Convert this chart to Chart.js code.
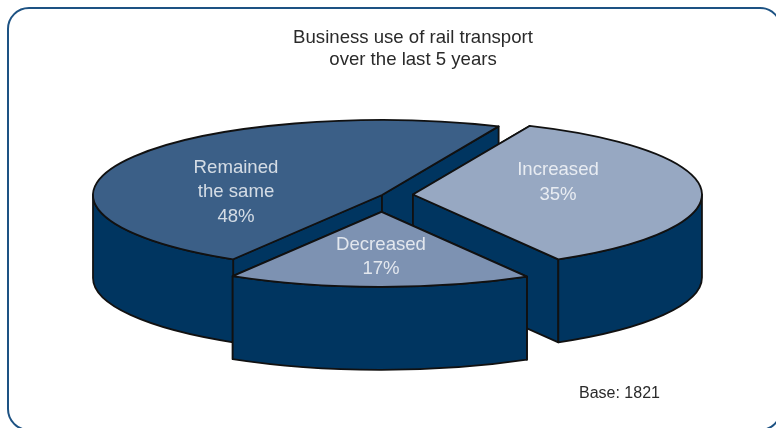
<!DOCTYPE html>
<html>
<head>
<meta charset="utf-8">
<style>
    html, body { margin: 0; padding: 0; background: #fff; overflow: hidden; }
    #wrap { position: relative; width: 776px; height: 428px; overflow: hidden; }
    #frame { position: absolute; left: 7px; top: 7px; width: 775px; height: 424px; box-sizing: border-box;
             border: 2px solid #1d5283; border-radius: 22px; }
    canvas { position: absolute; left: 0; top: 0; }
</style>
<script src="https://cdn.jsdelivr.net/npm/chart.js@4/dist/chart.umd.min.js"></script>
</head>
<body>
<div id="wrap">
    <div id="frame"></div>
    <canvas id="myChart" width="776" height="428"></canvas>
</div>
<script>
const categories = ['Remained the same', 'Increased', 'Decreased'];
const shares = [48, 35, 17];
const labelLines = [['Remained', 'the same'], ['Increased'], ['Decreased']];
const titleLines = ['Business use of rail transport', 'over the last 5 years'];
const baseNote = 'Base: 1821';

// look of the fake 3D
const topColors = ['#3b5f87', '#97a8c2', '#7d92b2'];
const wallColor = '#003560';
const edgeColor = '#111111';
const squash = 75 / 289;
const depth = 83;
const explode = [0, 31, 65];
const labelSpots = [[236, 172.5], [558, 175], [381, 249.5]];
const textFont = '18.6px "Liberation Sans", sans-serif';

function centerOf(arc, i) {
    const mid = (arc.startAngle + arc.endAngle) / 2;
    return {
        x: arc.x + Math.cos(mid) * explode[i],
        y: arc.y + Math.sin(mid) * explode[i] * squash
    };
}

function paint(ctx) {
    ctx.fillStyle = wallColor;
    ctx.fill();
    ctx.stroke();
}

function drawWalls(ctx, arc, i) {
    const c = centerOf(arc, i);
    const R = arc.outerRadius;
    const Ry = R * squash;

    // straight cut faces
    [arc.startAngle, arc.endAngle].forEach(function (a) {
        const ex = c.x + Math.cos(a) * R;
        const ey = c.y + Math.sin(a) * Ry;
        ctx.beginPath();
        ctx.moveTo(c.x, c.y);
        ctx.lineTo(ex, ey);
        ctx.lineTo(ex, ey + depth);
        ctx.lineTo(c.x, c.y + depth);
        ctx.closePath();
        paint(ctx);
    });

    // rim, only the part facing us
    for (let k = 0; k < 3; k++) {
        const lo = Math.max(arc.startAngle, k * 2 * Math.PI);
        const hi = Math.min(arc.endAngle, k * 2 * Math.PI + Math.PI);
        if (hi <= lo) continue;
        ctx.beginPath();
        ctx.ellipse(c.x, c.y, R, Ry, 0, lo, hi);
        ctx.ellipse(c.x, c.y + depth, R, Ry, 0, hi, lo, true);
        ctx.closePath();
        paint(ctx);
    }
}

function drawTop(ctx, arc, i) {
    const c = centerOf(arc, i);
    // library draws the slice, we only squash it
    ctx.save();
    ctx.translate(c.x, c.y);
    ctx.scale(1, squash);
    ctx.translate(-arc.x, -arc.y);
    arc.draw(ctx);
    ctx.restore();

    // outline kept out of the squash so the line stays even
    ctx.beginPath();
    ctx.moveTo(c.x, c.y);
    ctx.ellipse(c.x, c.y, arc.outerRadius, arc.outerRadius * squash, 0, arc.startAngle, arc.endAngle);
    ctx.closePath();
    ctx.stroke();
}

const pie3d = {
    id: 'pie3d',
    beforeDatasetDraw(chart, args) {
        const ctx = chart.ctx;
        ctx.save();
        ctx.lineWidth = 1.8;
        ctx.lineJoin = 'round';
        ctx.strokeStyle = edgeColor;
        args.meta.data.forEach(function (arc, i) {
            drawWalls(ctx, arc, i);
            drawTop(ctx, arc, i);
        });
        ctx.restore();
        return false;
    },
    afterDraw(chart) {
        const ctx = chart.ctx;
        ctx.save();
        ctx.font = textFont;
        ctx.textAlign = 'center';
        ctx.textBaseline = 'alphabetic';

        ctx.fillStyle = '#2a2a2a';
        titleLines.forEach(function (line, i) {
            ctx.fillText(line, 413, 42.5 + i * 22);
        });

        ctx.fillStyle = 'rgba(255, 255, 255, 0.78)';
        labelLines.forEach(function (lines, i) {
            const all = lines.concat(shares[i] + '%');
            all.forEach(function (line, j) {
                ctx.fillText(line, labelSpots[i][0], labelSpots[i][1] + j * 24.5);
            });
        });

        ctx.fillStyle = '#2a2a2a';
        ctx.font = '16px "Liberation Sans", sans-serif';
        ctx.textAlign = 'left';
        ctx.fillText(baseNote, 579, 398);
        ctx.restore();
    }
};

document.addEventListener('DOMContentLoaded', function () {
    new Chart(document.getElementById('myChart').getContext('2d'), {
        type: 'pie',
        data: {
            labels: categories,
            datasets: [{
                data: shares,
                backgroundColor: topColors,
                borderWidth: 0
            }]
        },
        options: {
            responsive: false,
            animation: false,
            rotation: 211,
            radius: 289,
            layout: { padding: { right: 12, bottom: 38 } },
            plugins: {
                legend: { display: false },
                tooltip: { enabled: false }
            }
        },
        plugins: [pie3d]
    });
});
</script>
</body>
</html>
